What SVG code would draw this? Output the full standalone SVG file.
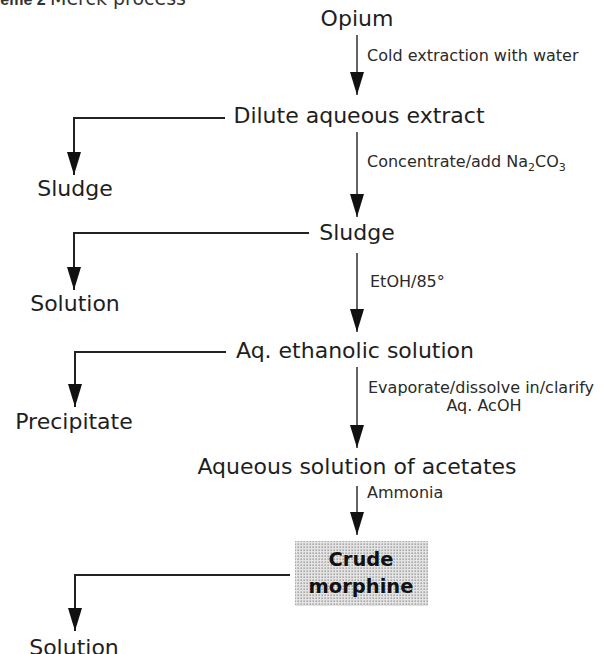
<svg xmlns="http://www.w3.org/2000/svg" width="605" height="654" viewBox="0 0 605 654">
  <style>
    .main { font-family: "DejaVu Sans", "Liberation Sans", sans-serif; font-size: 22px; fill: #1e1e1e; }
    .lbl { font-family: "DejaVu Sans", "Liberation Sans", sans-serif; font-size: 16px; fill: #2a2a2a; }
    .bold { font-family: "DejaVu Sans", "Liberation Sans", sans-serif; font-size: 19.5px; font-weight: bold; fill: #111; }
    .trunk { stroke: #222; stroke-width: 1.4; fill: none; }
    .branch { stroke: #222; stroke-width: 2; fill: none; }
  </style>
  <defs>
    <marker id="ah" viewBox="0 -8 24 16" refX="23" refY="0" markerWidth="24" markerHeight="16" markerUnits="userSpaceOnUse" orient="auto">
      <path d="M0,-7 L23,0 L0,7 z" fill="#111"/>
    </marker>
    <pattern id="stipple" width="3" height="3" patternUnits="userSpaceOnUse">
      <rect width="3" height="3" fill="#e4e4e4"/>
      <rect x="0.5" y="0.5" width="1.3" height="1.3" fill="#8a8a8a"/>
    </pattern>
  </defs>

  <g id="title">
    <text x="-29" y="5" style="font-family: 'Liberation Sans', sans-serif; font-size: 16px; font-weight: bold; fill: #333;">Scheme 2</text>
    <text x="50" y="5" style="font-family: 'DejaVu Sans', sans-serif; font-size: 19px; fill: #333;">Merck process</text>
  </g>

  <g id="connectors">
    <line class="trunk" x1="357" y1="35" x2="357" y2="95" marker-end="url(#ah)"/>
    <line class="trunk" x1="357" y1="132" x2="357" y2="217" marker-end="url(#ah)"/>
    <line class="trunk" x1="357" y1="253" x2="357" y2="332" marker-end="url(#ah)"/>
    <line class="trunk" x1="357" y1="367" x2="357" y2="448" marker-end="url(#ah)"/>
    <line class="trunk" x1="357" y1="486" x2="357" y2="535" marker-end="url(#ah)"/>
    <path class="branch" d="M225,118 H74 V175" marker-end="url(#ah)"/>
    <path class="branch" d="M309,233 H74 V290" marker-end="url(#ah)"/>
    <path class="branch" d="M226,352 H75 V407" marker-end="url(#ah)"/>
    <path class="branch" d="M290,575 H75 V631" marker-end="url(#ah)"/>
    <text class="lbl" x="367" y="61">Cold extraction with water</text>
    <text class="lbl" x="367" y="167">Concentrate/add Na<tspan font-size="11" dy="4">2</tspan><tspan dy="-4">CO</tspan><tspan font-size="11" dy="4">3</tspan></text>
    <text class="lbl" x="370" y="287">EtOH/85°</text>
    <text class="lbl" x="368" y="393">Evaporate/dissolve in/clarify</text>
    <text class="lbl" x="484" y="411" text-anchor="middle">Aq. AcOH</text>
    <text class="lbl" x="367" y="498">Ammonia</text>
  </g>

  <g id="opium"><text class="main" x="357" y="26" text-anchor="middle">Opium</text></g>
  <g id="dilute"><text class="main" x="359" y="123" text-anchor="middle">Dilute aqueous extract</text></g>
  <g id="sludge-left"><text class="main" x="75" y="196" text-anchor="middle">Sludge</text></g>
  <g id="sludge"><text class="main" x="357" y="240" text-anchor="middle">Sludge</text></g>
  <g id="solution1"><text class="main" x="75" y="311" text-anchor="middle">Solution</text></g>
  <g id="ethanolic"><text class="main" x="355" y="358" text-anchor="middle">Aq. ethanolic solution</text></g>
  <g id="precipitate"><text class="main" x="74" y="429" text-anchor="middle">Precipitate</text></g>
  <g id="acetates"><text class="main" x="357" y="474" text-anchor="middle">Aqueous solution of acetates</text></g>
  <g id="crude">
    <rect x="295" y="541" width="133" height="65" fill="url(#stipple)"/>
    <text class="bold" x="361" y="566" text-anchor="middle">Crude</text>
    <text class="bold" x="361" y="593" text-anchor="middle">morphine</text>
  </g>
  <g id="solution2"><text class="main" x="74" y="655" text-anchor="middle">Solution</text></g>
</svg>
